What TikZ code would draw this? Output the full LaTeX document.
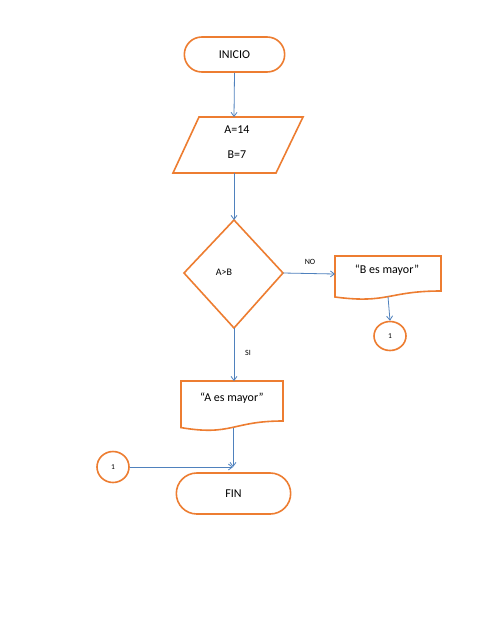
\documentclass[tikz,border=0pt]{standalone}
\usepackage{fontspec}
\setmainfont{Carlito}
\usetikzlibrary{arrows.meta,shapes.geometric,shapes.misc}
\definecolor{shapeorange}{RGB}{237,125,49}
\definecolor{lineblue}{RGB}{79,129,189}
\tikzset{
  x=1pt,y=-1pt,
  outl/.style={draw=shapeorange,line width=1.6pt,fill=white},
  term/.style={outl,rounded rectangle},
  conn/.style={draw=lineblue,line width=0.8pt,-{Straight Barb[length=4pt,width=6pt]}},
  lbl/.style={font=\fontsize{12}{14}\selectfont},
  small/.style={font=\fontsize{8}{9}\selectfont},
  circ/.style={outl,ellipse,inner sep=0pt,font=\fontsize{7.5}{8}\selectfont},
}
\begin{document}
\begin{tikzpicture}
\useasboundingbox (0,0) rectangle (495,640);
\fill[white] (0,0) rectangle (495,640);
% INICIO
\node[term,minimum width=107pt,minimum height=35pt,lbl] (ini) at (234.5,54.5) {INICIO};
% parallelogram
\draw[outl] (199,117) -- (303,117) -- (276,173) -- (173,173) -- cycle;
\node[lbl] (a14) at (237,130) {A=14};
\node[lbl] (b7) at (237,155) {B=7};
\coordinate (pTop) at (234,117);
\coordinate (pBot) at (234,173);
% diamond
\draw[outl] (234,220) -- (283,273) -- (234,328) -- (184,273) -- cycle;
\coordinate (dTop) at (234,220);
\coordinate (dRight) at (283,273);
\coordinate (dBot) at (234,328);
\node[font=\fontsize{10}{12}\selectfont] (cond) at (224,272) {A>B};
% B es mayor document
\draw[outl] (335,297) -- (335,256) -- (441,256) -- (441,291)
  .. controls (388,291) and (388,304) .. (335,297) -- cycle;
\node[lbl] (bm) at (387,270) {“B es mayor”};
\coordinate (bLeft) at (335,274);
\coordinate (bBot) at (388,296.6);
% connector circle 1 right
\node[circ,minimum width=32pt,minimum height=29pt] (c1r) at (390,336) {1};
% A es mayor document
\draw[outl] (181,427.6) -- (181,381) -- (283,381) -- (283,421)
  .. controls (232,421) and (232,436.2) .. (181,427.6) -- cycle;
\node[lbl] (am) at (232,398) {“A es mayor”};
\coordinate (aTop) at (234,381);
\coordinate (aBot) at (233,427.5);
% FIN
\node[term,minimum width=121pt,minimum height=41pt,lbl] (fin) at (233.5,493.5) {FIN};
\coordinate (fMerge) at (233,467);
% connector circle 1 left
\node[circ,minimum width=32pt,minimum height=31pt] (c1l) at (113,467) {1};
% arrows
\draw[conn] (ini.south) -- (pTop);
\draw[conn] (pBot) -- (dTop);
\draw[conn] (dRight) -- (bLeft);
\draw[conn] (bBot) -- (c1r.north);
\draw[conn] (dBot) -- (aTop);
\draw[conn] (aBot) -- (fMerge);
\draw[conn] (c1l.east) -- (fMerge);
% labels
\node[small] (no) at (310,262) {NO};
\node[small] (si) at (248,353) {SI};
\end{tikzpicture}
\end{document}
